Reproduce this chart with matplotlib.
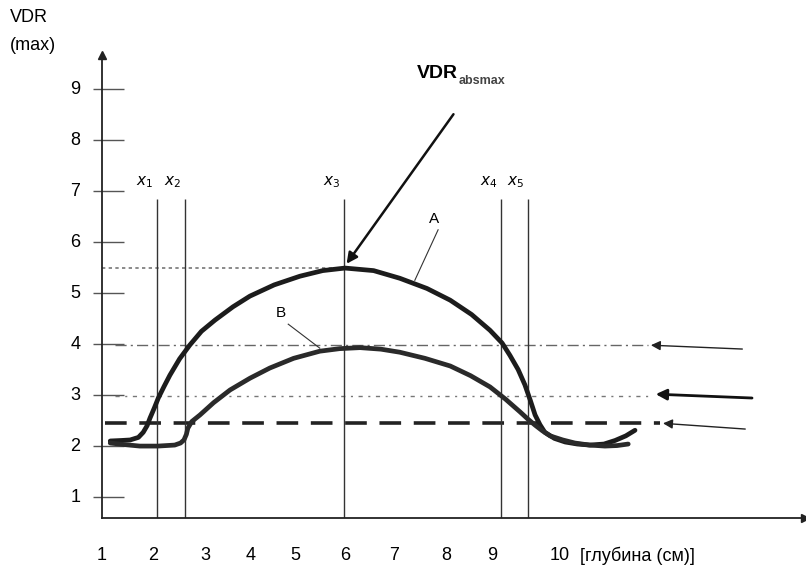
import matplotlib.pyplot as plt

plt.rcParams['font.family'] = ['Liberation Sans', 'DejaVu Sans']

# depth axis labels (label text and where it sits along the depth axis)
x_labels = ['1', '2', '3', '4', '5', '6', '7', '8', '9', '10']
x_label_pos = [1.0, 2.05, 3.14, 4.07, 4.98, 6.01, 7.03, 8.1, 9.04, 10.44]
y_ticks = [1, 2, 3, 4, 5, 6, 7, 8, 9]

# curve A (thick upper curve)
a_x = [1.17, 1.4, 1.58, 1.75, 1.85, 1.93, 1.99, 2.08, 2.16, 2.28, 2.4, 2.6, 2.81, 3.05,
       3.33, 3.7, 4.05, 4.55, 5.08, 5.55, 6.01, 6.6, 7.14, 7.7, 8.18, 8.62, 9.0, 9.25,
       9.41, 9.58, 9.72, 9.83, 9.93, 10.03, 10.13, 10.33, 10.55, 10.8, 11.06, 11.35,
       11.58, 11.8, 11.99]
a_y = [2.1, 2.11, 2.12, 2.17, 2.27, 2.4, 2.55, 2.75, 2.94, 3.17, 3.39, 3.71, 3.98, 4.25,
       4.47, 4.73, 4.94, 5.16, 5.33, 5.44, 5.49, 5.44, 5.29, 5.09, 4.86, 4.58, 4.27, 4.02,
       3.78, 3.5, 3.2, 2.9, 2.61, 2.42, 2.27, 2.15, 2.08, 2.04, 2.02, 2.04, 2.11, 2.2, 2.31]

# curve B (lower curve)
b_x = [1.17, 1.45, 1.78, 2.15, 2.5, 2.62, 2.69, 2.74, 2.77, 2.85, 3.02, 3.3, 3.64, 4.05,
       4.46, 4.95, 5.49, 5.9, 6.32, 6.75, 7.14, 7.66, 8.18, 8.6, 9.0, 9.32, 9.62, 9.78,
       9.93, 10.08, 10.24, 10.5, 10.75, 11.05, 11.37, 11.62, 11.85]
b_y = [2.06, 2.03, 2.0, 2.0, 2.02, 2.06, 2.12, 2.23, 2.35, 2.48, 2.61, 2.85, 3.1, 3.33,
       3.53, 3.72, 3.86, 3.91, 3.93, 3.9, 3.84, 3.72, 3.57, 3.38, 3.16, 2.92, 2.67, 2.53,
       2.41, 2.3, 2.2, 2.12, 2.06, 2.02, 2.0, 2.01, 2.04]

# vertical markers x1..x5
x_marks = [2.13, 2.71, 5.99, 9.23, 9.78]
x_mark_names = ['$x_1$', '$x_2$', '$x_3$', '$x_4$', '$x_5$']
x_mark_top = 6.85

# horizontal reference levels
vdr_absmax = 5.49
level_4 = 3.98
level_3 = 2.98
level_th = 2.45

fig = plt.figure(figsize=(8.06, 5.69), dpi=100)
ax = fig.add_axes([102 / 806, 51 / 569, 703 / 806, 463 / 569])
ax.set_xlim(1, 15.495)
ax.set_ylim(0.59, 9.667)
for s in ['top', 'right']:
    ax.spines[s].set_visible(False)
for s in ['left', 'bottom']:
    ax.spines[s].set_linewidth(1.3)
    ax.spines[s].set_color('#222222')
ax.set_xticks([])
ax.set_yticks([])
# arrow tips at the ends of both axes
ax.plot(1, 0.59, '>', color='#222222', ms=6, transform=ax.get_yaxis_transform(), clip_on=False)
ax.plot(1, 1, '^', color='#222222', ms=6, transform=ax.get_xaxis_transform(), clip_on=False)

# y ticks and labels
ax.hlines(y_ticks, 0.81, 1.45, color='#555555', lw=1.0, clip_on=False)
for v in y_ticks:
    ax.text(0.45, v, str(v), ha='center', va='center', fontsize=13, clip_on=False)

for lab, pos in zip(x_labels, x_label_pos):
    ax.text(pos, -0.15, lab, ha='center', va='center', fontsize=13, clip_on=False)
ax.text(10.85, -0.15, '[глубина (см)]', ha='left', va='center', fontsize=13, clip_on=False)

fig.text(10 / 806, 1 - 18 / 569, 'VDR', ha='left', va='center', fontsize=13)
fig.text(10 / 806, 1 - 45 / 569, '(max)', ha='left', va='center', fontsize=13)

# reference lines
ax.plot([1.0, 6.0], [vdr_absmax, vdr_absmax], color='#777777', lw=1.2, ls=(0, (2, 2)))
ax.plot([1.27, 12.26], [level_4, level_4], color='#666666', lw=1.0, ls=(0, (8, 3, 1.5, 3)))
ax.plot([1.27, 12.36], [level_3, level_3], color='#777777', lw=1.0, ls=(0, (3, 4, 1.5, 4)))
ax.plot([1.06, 12.5], [level_th, level_th], color='#222222', lw=2.6, ls=(0, (6, 3.5)))

# vertical x markers
ax.vlines(x_marks, 0.59, x_mark_top, color='#333333', lw=1.0)
for xm, name in zip(x_marks, x_mark_names):
    ax.text(xm - 0.25, 7.18, name, ha='center', va='center', fontsize=11,
            family='DejaVu Serif')

# curves
ax.plot(a_x, a_y, color='#1c1c1c', lw=3.4, solid_capstyle='round', solid_joinstyle='round')
ax.plot(b_x, b_y, color='#2a2a2a', lw=3.4, solid_capstyle='round', solid_joinstyle='round')

# labels A and B with leaders
ax.plot([7.93, 7.45], [6.24, 5.25], color='#333333', lw=0.8)
ax.text(7.85, 6.32, 'A', ha='center', va='bottom', fontsize=11)
ax.plot([4.84, 5.49], [4.39, 3.92], color='#333333', lw=0.8)
ax.text(4.69, 4.6, 'B', ha='center', va='center', fontsize=11)

# VDR_absmax arrow and label
ax.annotate('', xy=(6.01, 5.53), xytext=(8.28, 8.55),
            arrowprops=dict(arrowstyle='-|>', color='#111111', lw=1.8, mutation_scale=16))
ax.text(7.49, 9.3, 'VDR', ha='left', va='center', fontsize=14, fontweight='bold')
ax.text(8.36, 9.16, 'absmax', ha='left', va='center', fontsize=9, fontweight='bold',
        color='#444444')

# right-side arrows pointing at the levels
ax.annotate('', xy=(12.26, level_4), xytext=(14.26, 3.9),
            arrowprops=dict(arrowstyle='-|>', color='#222222', lw=1.0, mutation_scale=14))
ax.annotate('', xy=(12.36, level_3 + 0.04), xytext=(14.46, 2.94),
            arrowprops=dict(arrowstyle='-|>', color='#111111', lw=2.0, mutation_scale=16))
ax.annotate('', xy=(12.51, level_th), xytext=(14.32, 2.33),
            arrowprops=dict(arrowstyle='-|>', color='#222222', lw=1.0, mutation_scale=14))

fig.savefig('out.png', dpi=100)
